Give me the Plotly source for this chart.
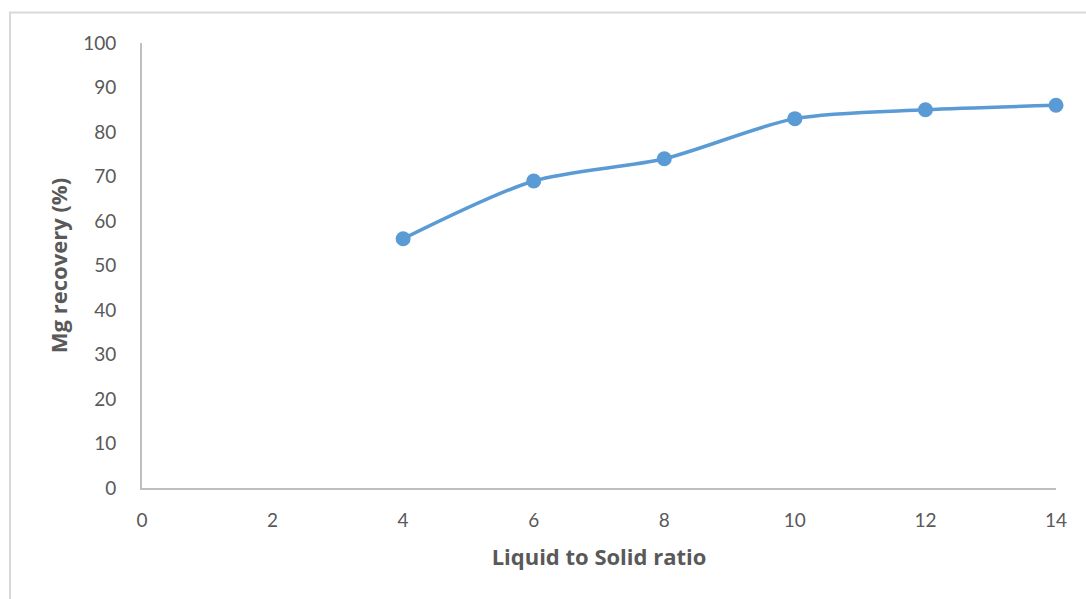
import plotly.graph_objects as go

# Mg recovery versus liquid-to-solid ratio
ls_ratio = [4, 6, 8, 10, 12, 14]
mg_recovery = [56, 69, 74, 83, 85, 86]

x_ticks = [0, 2, 4, 6, 8, 10, 12, 14]
y_ticks = [0, 10, 20, 30, 40, 50, 60, 70, 80, 90, 100]

blue = "#5b9bd5"
grey_text = "#595959"
axis_grey = "#bfbfbf"
tick_font = "Lato, 'Open Sans', sans-serif"
title_font = "'Open Sans', Lato, sans-serif"

fig = go.Figure()
fig.add_trace(go.Scatter(
    x=ls_ratio,
    y=mg_recovery,
    mode="lines+markers",
    line=dict(color=blue, width=3.5, shape="spline", smoothing=0.8),
    marker=dict(color=blue, size=15),
    showlegend=False,
    cliponaxis=False,
))

W, H = 1086, 599
L, R, T, B = 142, 30, 43, 111
pw, ph = W - L - R, H - T - B

fig.update_layout(
    width=W, height=H,
    margin=dict(l=L, r=R, t=T, b=B, pad=0),
    paper_bgcolor="white",
    plot_bgcolor="white",
    font=dict(family=tick_font, color=grey_text, size=19),
    xaxis=dict(
        range=[0, 14], tickvals=x_ticks, ticktext=[str(v) for v in x_ticks],
        showgrid=False, zeroline=False, showline=True, linecolor=axis_grey, linewidth=2,
        ticks="", ticklabelstandoff=14,
        title=dict(text="<b>Liquid to Solid ratio</b>",
                   font=dict(family=title_font, size=22, color=grey_text), standoff=20),
        fixedrange=True,
    ),
    yaxis=dict(
        range=[0, 100], tickvals=y_ticks, ticktext=[str(v) for v in y_ticks],
        showgrid=False, zeroline=False, showline=True, linecolor=axis_grey, linewidth=2,
        ticks="", ticklabelstandoff=20,
        title=dict(text="<b>Mg recovery (%)</b>",
                   font=dict(family=title_font, size=22, color=grey_text), standoff=9),
        fixedrange=True,
    ),
    shapes=[dict(
        type="rect", xref="paper", yref="paper",
        x0=(10 - L) / pw, x1=(W + 20 - L) / pw,
        y0=-(H + 20 - T - ph) / ph, y1=(H - 12.5 - B) / ph,
        line=dict(color="#d9d9d9", width=2), fillcolor="rgba(0,0,0,0)", layer="below",
    )],
)

fig.write_html("out.html")
